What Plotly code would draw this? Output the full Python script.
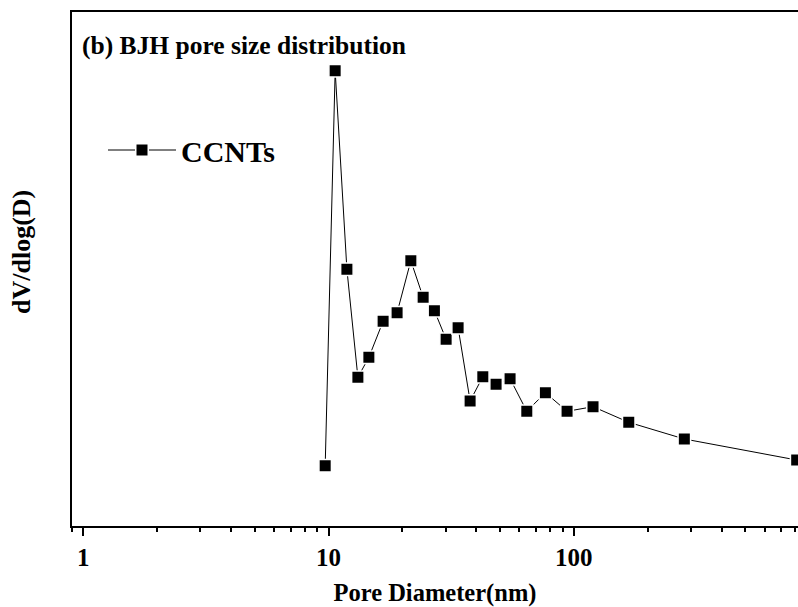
import plotly.graph_objects as go
import math

# Data (arbitrary units for dV/dlog(D))
pore_diameter_nm = [9.69, 10.64, 11.88, 13.17, 14.60, 16.69, 19.03, 21.65, 24.30, 27.01,
                    30.15, 33.74, 37.76, 42.54, 48.19, 54.95, 64.28, 76.55, 93.82, 119.7,
                    167.4, 282.0, 809.6]
dv_dlogd = [0.603, 4.553, 2.567, 1.487, 1.687, 2.047, 2.133, 2.653, 2.287, 2.153,
            1.867, 1.983, 1.250, 1.493, 1.417, 1.473, 1.147, 1.333, 1.147, 1.193,
            1.037, 0.870, 0.660]
series_name = "CCNTs"
major_ticks = [1, 10, 100]
major_labels = ["1", "10", "100"]
minor_ticks = [0.9] + [k for k in range(2, 10)] + [k * 10 for k in range(2, 10)] + [k * 100 for k in range(2, 9)]

FONT = "Liberation Serif, Times New Roman, serif"

fig = go.Figure()
fig.add_trace(go.Scatter(
    x=pore_diameter_nm, y=dv_dlogd, name=series_name,
    mode="lines+markers",
    line=dict(color="black", width=1),
    marker=dict(symbol="square", size=12.5, color="black",
                line=dict(color="white", width=1.5)),
))

fig.update_layout(
    width=798, height=607,
    margin=dict(l=72, r=0, t=12, b=81),
    plot_bgcolor="white", paper_bgcolor="white",
    font=dict(family=FONT, color="black", size=24, weight="bold"),
    showlegend=True,
    legend=dict(x=(103 - 72) / 726, y=(526 - 150) / 514, xanchor="left", yanchor="middle",
                font=dict(family=FONT, size=30, weight="bold"),
                bgcolor="rgba(0,0,0,0)", itemwidth=68),
    xaxis=dict(
        type="log", range=[math.log10(0.9), (798 - 83) / 245.4],
        tickvals=major_ticks, ticktext=major_labels,
        ticks="outside", ticklen=8, tickwidth=2, tickcolor="black",
        showline=True, linewidth=2, linecolor="black", mirror=True,
        showgrid=False, zeroline=False,
        tickfont=dict(family=FONT, size=25, weight="bold"),
        minor=dict(tickvals=minor_ticks, ticks="outside", ticklen=4, tickwidth=1.5,
                   tickcolor="black", showgrid=False),
        title=dict(text="Pore Diameter(nm)", font=dict(family=FONT, size=24.5, weight="bold"),
                   standoff=18),
    ),
    yaxis=dict(
        range=[0, 5.14], showticklabels=False, ticks="",
        showline=True, linewidth=2, linecolor="black",
        showgrid=False, zeroline=False,
    ),
    annotations=[
        dict(text="(b) BJH pore size distribution", xref="paper", yref="paper",
             x=(80 - 72) / 726, y=(526 - 46) / 514, xanchor="left", yanchor="middle",
             showarrow=False, font=dict(family=FONT, size=25.5, weight="bold")),
        dict(text="dV/dlog(D)", xref="paper", yref="paper", textangle=-90,
             x=(21 - 72) / 726, y=(526 - 252) / 514, xanchor="center", yanchor="middle",
             showarrow=False, font=dict(family=FONT, size=26, weight="bold")),
    ],
)

fig.write_html("out.html")
